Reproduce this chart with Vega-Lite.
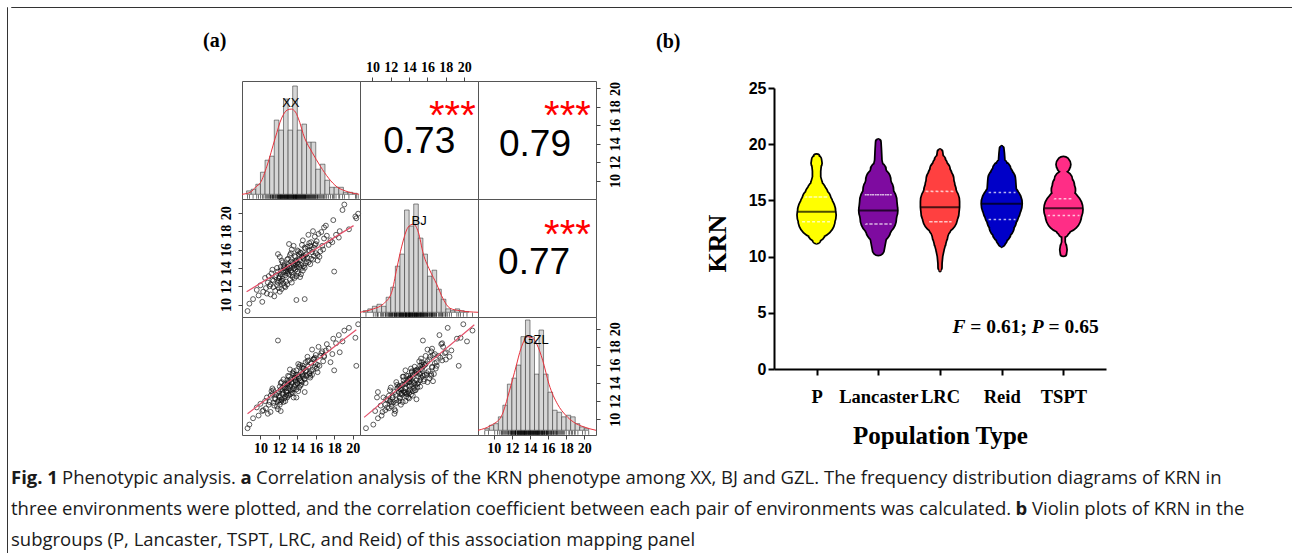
{
"$schema":"https://vega.github.io/schema/vega-lite/v6.json",
"padding":{"left":6,"top":6,"right":0,"bottom":0},
"background":"white",
"config":{"view":{"stroke":"#555","strokeWidth":1},"font":"Liberation Sans","axis":{"grid":false}},
"datasets":{
"ind":[
{"XX":13.2,"BJ":14.0,"GZL":13.6},{"XX":14.6,"BJ":15.1,"GZL":15.0},{"XX":12.1,"BJ":13.0,"GZL":12.4},{"XX":15.8,"BJ":16.2,"GZL":16.6},{"XX":11.4,"BJ":12.6,"GZL":11.8},
{"XX":13.8,"BJ":14.4,"GZL":14.9},{"XX":16.9,"BJ":17.2,"GZL":17.0},{"XX":12.8,"BJ":13.9,"GZL":13.1},{"XX":10.6,"BJ":11.8,"GZL":11.2},{"XX":14.2,"BJ":14.1,"GZL":14.5},
{"XX":13.0,"BJ":15.0,"GZL":14.0},{"XX":15.2,"BJ":14.6,"GZL":15.8},{"XX":12.4,"BJ":12.8,"GZL":13.5},{"XX":18.2,"BJ":17.6,"GZL":18.4},{"XX":11.9,"BJ":13.6,"GZL":12.0},
{"XX":13.5,"BJ":13.2,"GZL":12.9},{"XX":14.9,"BJ":16.1,"GZL":15.3},{"XX":12.6,"BJ":14.3,"GZL":13.8},{"XX":9.8,"BJ":11.0,"GZL":10.4},{"XX":16.2,"BJ":15.4,"GZL":16.0},
{"XX":13.3,"BJ":14.7,"GZL":13.2},{"XX":14.4,"BJ":15.6,"GZL":14.2},{"XX":11.1,"BJ":12.2,"GZL":12.6},{"XX":15.5,"BJ":16.8,"GZL":16.2},{"XX":12.9,"BJ":13.4,"GZL":14.3},
{"XX":17.4,"BJ":16.5,"GZL":17.8},{"XX":13.7,"BJ":15.3,"GZL":14.6},{"XX":10.9,"BJ":13.1,"GZL":11.6},{"XX":14.0,"BJ":13.6,"GZL":13.9},{"XX":12.2,"BJ":14.1,"GZL":13.3},
{"XX":19.1,"BJ":20.9,"GZL":19.8},{"XX":15.0,"BJ":15.5,"GZL":14.8},{"XX":11.6,"BJ":11.5,"GZL":12.2},{"XX":13.9,"BJ":14.8,"GZL":15.4},{"XX":12.5,"BJ":12.3,"GZL":11.9},
{"XX":16.6,"BJ":17.9,"GZL":17.3},{"XX":14.7,"BJ":14.2,"GZL":15.6},{"XX":12.0,"BJ":12.9,"GZL":13.0},{"XX":13.4,"BJ":16.0,"GZL":14.1},{"XX":15.3,"BJ":15.9,"GZL":15.1},
{"XX":8.6,"BJ":9.3,"GZL":9.0},{"XX":14.3,"BJ":13.0,"GZL":13.7},{"XX":12.7,"BJ":13.7,"GZL":12.5},{"XX":17.9,"BJ":19.2,"GZL":18.9},{"XX":13.1,"BJ":13.3,"GZL":14.7},
{"XX":11.3,"BJ":13.8,"GZL":12.8},{"XX":15.7,"BJ":14.9,"GZL":15.5},{"XX":14.1,"BJ":15.8,"GZL":16.1},{"XX":12.3,"BJ":11.7,"GZL":12.1},{"XX":16.0,"BJ":16.6,"GZL":17.1},
{"XX":13.6,"BJ":14.5,"GZL":13.4},{"XX":10.3,"BJ":11.4,"GZL":11.0},{"XX":14.8,"BJ":14.0,"GZL":14.4},{"XX":12.9,"BJ":14.9,"GZL":13.9},{"XX":15.9,"BJ":17.4,"GZL":16.8},
{"XX":11.8,"BJ":12.1,"GZL":11.4},{"XX":13.2,"BJ":12.7,"GZL":13.8},{"XX":16.4,"BJ":15.2,"GZL":15.9},{"XX":12.5,"BJ":13.5,"GZL":12.9},{"XX":14.5,"BJ":16.5,"GZL":15.7},
{"XX":10.8,"BJ":12.4,"GZL":10.6},{"XX":13.8,"BJ":13.8,"GZL":14.2},{"XX":15.1,"BJ":16.3,"GZL":16.9},{"XX":12.1,"BJ":15.2,"GZL":13.6},{"XX":19.6,"BJ":18.2,"GZL":20.1},
{"XX":14.2,"BJ":14.9,"GZL":13.5},{"XX":11.5,"BJ":10.9,"GZL":11.5},{"XX":13.0,"BJ":13.9,"GZL":14.8},{"XX":16.8,"BJ":16.0,"GZL":16.4},{"XX":12.8,"BJ":12.5,"GZL":12.7},
{"XX":14.6,"BJ":17.0,"GZL":15.9},{"XX":9.6,"BJ":11.6,"GZL":11.3},{"XX":13.5,"BJ":14.6,"GZL":15.1},{"XX":15.4,"BJ":14.4,"GZL":14.6},{"XX":12.2,"BJ":13.3,"GZL":11.9},
{"XX":17.1,"BJ":18.6,"GZL":17.6},{"XX":13.9,"BJ":13.1,"GZL":13.3},{"XX":11.0,"BJ":12.0,"GZL":11.9},{"XX":14.9,"BJ":15.4,"GZL":16.3},{"XX":12.6,"BJ":14.0,"GZL":12.3},
{"XX":15.6,"BJ":15.7,"GZL":14.9},{"XX":13.3,"BJ":15.6,"GZL":14.4},{"XX":10.2,"BJ":10.3,"GZL":10.9},{"XX":14.0,"BJ":14.6,"GZL":14.0},{"XX":16.3,"BJ":17.7,"GZL":18.0},
{"XX":12.4,"BJ":14.6,"GZL":13.2},{"XX":13.7,"BJ":12.9,"GZL":13.6},{"XX":18.6,"BJ":18.0,"GZL":17.4},{"XX":11.7,"BJ":13.2,"GZL":12.7},{"XX":14.4,"BJ":14.3,"GZL":15.2},
{"XX":15.2,"BJ":17.6,"GZL":16.5},{"XX":12.0,"BJ":11.8,"GZL":12.6},{"XX":13.1,"BJ":14.2,"GZL":12.7},{"XX":16.1,"BJ":16.9,"GZL":15.6},{"XX":11.2,"BJ":13.4,"GZL":13.1},
{"XX":14.7,"BJ":15.0,"GZL":14.7},{"XX":13.4,"BJ":13.5,"GZL":14.0},{"XX":20.3,"BJ":19.6,"GZL":19.0},{"XX":12.7,"BJ":13.2,"GZL":13.4},{"XX":14.1,"BJ":14.4,"GZL":13.1},
{"XX":10.5,"BJ":12.9,"GZL":12.0},{"XX":15.8,"BJ":15.3,"GZL":16.7},{"XX":13.6,"BJ":16.4,"GZL":15.0},{"XX":12.3,"BJ":12.6,"GZL":14.1},{"XX":17.6,"BJ":17.0,"GZL":16.3},
{"XX":13.8,"BJ":15.2,"GZL":14.3},{"XX":11.9,"BJ":12.4,"GZL":11.1},{"XX":14.3,"BJ":15.7,"GZL":16.0},{"XX":15.0,"BJ":14.7,"GZL":15.4},{"XX":12.9,"BJ":12.2,"GZL":12.4},
{"XX":9.2,"BJ":10.6,"GZL":10.1},{"XX":14.5,"BJ":14.0,"GZL":14.1},{"XX":16.7,"BJ":16.4,"GZL":17.5},{"XX":13.0,"BJ":14.4,"GZL":12.6},{"XX":11.4,"BJ":11.9,"GZL":13.2},
{"XX":15.3,"BJ":16.7,"GZL":15.0},{"XX":13.9,"BJ":14.1,"GZL":14.6},{"XX":12.5,"BJ":14.2,"GZL":14.4},{"XX":18.9,"BJ":20.3,"GZL":18.6},{"XX":14.6,"BJ":13.7,"GZL":14.8},
{"XX":12.1,"BJ":11.4,"GZL":11.6},{"XX":13.2,"BJ":15.4,"GZL":15.5},{"XX":15.5,"BJ":15.0,"GZL":15.3},{"XX":10.7,"BJ":11.2,"GZL":12.4},{"XX":14.8,"BJ":16.2,"GZL":14.5},
{"XX":12.8,"BJ":13.6,"GZL":13.0},{"XX":16.5,"BJ":15.8,"GZL":17.0},{"XX":13.5,"BJ":13.0,"GZL":13.3},{"XX":11.6,"BJ":13.0,"GZL":12.3},{"XX":14.2,"BJ":15.5,"GZL":15.8},
{"XX":17.2,"BJ":17.5,"GZL":18.3},{"XX":12.4,"BJ":13.1,"GZL":12.8},{"XX":13.7,"BJ":14.0,"GZL":14.5},{"XX":15.9,"BJ":16.5,"GZL":15.8},{"XX":11.1,"BJ":11.1,"GZL":10.8},
{"XX":14.0,"BJ":15.9,"GZL":14.9},{"XX":12.6,"BJ":12.0,"GZL":13.5},{"XX":15.1,"BJ":15.1,"GZL":16.4},{"XX":13.3,"BJ":13.7,"GZL":12.8},{"XX":16.9,"BJ":18.4,"GZL":16.9},
{"XX":12.2,"BJ":13.7,"GZL":14.0},{"XX":14.4,"BJ":13.3,"GZL":13.8},{"XX":8.8,"BJ":10.1,"GZL":9.4},{"XX":13.6,"BJ":14.3,"GZL":15.3},{"XX":15.6,"BJ":16.0,"GZL":17.7},
{"XX":12.0,"BJ":12.6,"GZL":12.1},{"XX":14.9,"BJ":14.5,"GZL":14.0},{"XX":13.1,"BJ":16.6,"GZL":14.2},{"XX":17.8,"BJ":16.8,"GZL":17.2},{"XX":11.8,"BJ":14.0,"GZL":12.9},
{"XX":14.1,"BJ":13.4,"GZL":14.7},{"XX":12.9,"BJ":14.1,"GZL":13.7},{"XX":16.0,"BJ":15.6,"GZL":16.1},{"XX":13.4,"BJ":12.4,"GZL":13.0},{"XX":10.0,"BJ":12.1,"GZL":11.7},
{"XX":14.7,"BJ":15.3,"GZL":15.6},{"XX":12.3,"BJ":14.8,"GZL":12.2},{"XX":15.4,"BJ":16.4,"GZL":14.8},{"XX":13.8,"BJ":14.7,"GZL":13.8},{"XX":20.6,"BJ":19.9,"GZL":20.5},
{"XX":12.7,"BJ":11.9,"GZL":12.0},{"XX":14.3,"BJ":14.8,"GZL":14.3},{"XX":11.3,"BJ":12.7,"GZL":13.4},{"XX":13.0,"BJ":13.6,"GZL":13.4},{"XX":15.7,"BJ":18.0,"GZL":16.6},
{"XX":18.5,"BJ":17.3,"GZL":19.3},{"XX":12.2,"BJ":12.5,"GZL":10.9},{"XX":14.5,"BJ":15.2,"GZL":15.0},{"XX":13.6,"BJ":13.9,"GZL":12.4},{"XX":16.2,"BJ":14.8,"GZL":15.2},
{"XX":18.0,"BJ":13.6,"GZL":15.4},{"XX":13.9,"BJ":10.5,"GZL":12.4},{"XX":14.8,"BJ":10.6,"GZL":13.0},{"XX":20.4,"BJ":19.4,"GZL":15.9},{"XX":11.9,"BJ":15.5,"GZL":18.7}
],
"hist":[
{"env":"XX","b":8.5,"b2":9.0,"n":1.7},{"env":"XX","b":9.0,"b2":9.5,"n":2.5},{"env":"XX","b":9.5,"b2":10.0,"n":5},{"env":"XX","b":10.0,"b2":10.5,"n":11},{"env":"XX","b":10.5,"b2":11.0,"n":17},{"env":"XX","b":11.0,"b2":11.5,"n":19},{"env":"XX","b":11.5,"b2":12.0,"n":37},{"env":"XX","b":12.0,"b2":12.5,"n":32},{"env":"XX","b":12.5,"b2":13.0,"n":47.5},{"env":"XX","b":13.0,"b2":13.5,"n":32},{"env":"XX","b":13.5,"b2":14.0,"n":54},{"env":"XX","b":14.0,"b2":14.5,"n":32},{"env":"XX","b":14.5,"b2":15.0,"n":35},{"env":"XX","b":15.0,"b2":15.5,"n":26},{"env":"XX","b":15.5,"b2":16.0,"n":26},{"env":"XX","b":16.0,"b2":16.5,"n":12.5},{"env":"XX","b":16.5,"b2":17.0,"n":15},{"env":"XX","b":17.0,"b2":17.5,"n":7},{"env":"XX","b":17.5,"b2":18.0,"n":3.5},{"env":"XX","b":18.0,"b2":18.5,"n":3.5},{"env":"XX","b":18.5,"b2":19.0,"n":3.5},{"env":"XX","b":19.0,"b2":19.5,"n":1},{"env":"XX","b":19.5,"b2":20.0,"n":1},{"env":"XX","b":20.0,"b2":20.5,"n":0.5},
{"env":"BJ","b":9.0,"b2":9.5,"n":0.8},{"env":"BJ","b":9.5,"b2":10.0,"n":1.7},{"env":"BJ","b":10.0,"b2":10.5,"n":3},{"env":"BJ","b":10.5,"b2":11.0,"n":4},{"env":"BJ","b":11.0,"b2":11.5,"n":3},{"env":"BJ","b":11.5,"b2":12.0,"n":7.5},{"env":"BJ","b":12.0,"b2":12.5,"n":12.5},{"env":"BJ","b":12.5,"b2":13.0,"n":23},{"env":"BJ","b":13.0,"b2":13.5,"n":29},{"env":"BJ","b":13.5,"b2":14.0,"n":51},{"env":"BJ","b":14.0,"b2":14.5,"n":43},{"env":"BJ","b":14.5,"b2":15.0,"n":54},{"env":"BJ","b":15.0,"b2":15.5,"n":37},{"env":"BJ","b":15.5,"b2":16.0,"n":29},{"env":"BJ","b":16.0,"b2":16.5,"n":18},{"env":"BJ","b":16.5,"b2":17.0,"n":21},{"env":"BJ","b":17.0,"b2":17.5,"n":11.5},{"env":"BJ","b":17.5,"b2":18.0,"n":6.5},{"env":"BJ","b":18.0,"b2":18.5,"n":1.7},{"env":"BJ","b":18.5,"b2":19.0,"n":0.8},{"env":"BJ","b":19.0,"b2":19.5,"n":1.7},{"env":"BJ","b":19.5,"b2":20.0,"n":0.8},{"env":"BJ","b":20.0,"b2":20.5,"n":0.4},
{"env":"GZL","b":9.0,"b2":9.5,"n":0.8},{"env":"GZL","b":9.5,"b2":10.0,"n":2.5},{"env":"GZL","b":10.0,"b2":10.5,"n":3.3},{"env":"GZL","b":10.5,"b2":11.0,"n":6.7},{"env":"GZL","b":11.0,"b2":11.5,"n":12.5},{"env":"GZL","b":11.5,"b2":12.0,"n":23},{"env":"GZL","b":12.0,"b2":12.5,"n":26},{"env":"GZL","b":12.5,"b2":13.0,"n":32.5},{"env":"GZL","b":13.0,"b2":13.5,"n":46.7},{"env":"GZL","b":13.5,"b2":14.0,"n":55},{"env":"GZL","b":14.0,"b2":14.5,"n":46.7},{"env":"GZL","b":14.5,"b2":15.0,"n":28},{"env":"GZL","b":15.0,"b2":15.5,"n":50},{"env":"GZL","b":15.5,"b2":16.0,"n":28},{"env":"GZL","b":16.0,"b2":16.5,"n":19},{"env":"GZL","b":16.5,"b2":17.0,"n":10},{"env":"GZL","b":17.0,"b2":17.5,"n":9},{"env":"GZL","b":17.5,"b2":18.0,"n":6.7},{"env":"GZL","b":18.0,"b2":18.5,"n":7.5},{"env":"GZL","b":18.5,"b2":19.0,"n":6.7},{"env":"GZL","b":19.0,"b2":19.5,"n":3.3},{"env":"GZL","b":19.5,"b2":20.0,"n":1.7},{"env":"GZL","b":20.0,"b2":20.5,"n":0.8}
],
"dens":[
{"env":"XX","v":8.0,"d":0},{"env":"XX","v":8.9,"d":1},{"env":"XX","v":9.5,"d":3.7},{"env":"XX","v":10.0,"d":5.8},{"env":"XX","v":10.7,"d":14},{"env":"XX","v":11.6,"d":28},{"env":"XX","v":12.3,"d":38},{"env":"XX","v":12.9,"d":42},{"env":"XX","v":13.35,"d":42.5},{"env":"XX","v":13.8,"d":41},{"env":"XX","v":14.1,"d":38},{"env":"XX","v":14.8,"d":28},{"env":"XX","v":15.6,"d":21},{"env":"XX","v":16.5,"d":14},{"env":"XX","v":17.4,"d":8},{"env":"XX","v":18.3,"d":3.7},{"env":"XX","v":19.2,"d":1.7},{"env":"XX","v":20.7,"d":0},
{"env":"BJ","v":8.65,"d":0},{"env":"BJ","v":10.1,"d":1.7},{"env":"BJ","v":11.2,"d":4.2},{"env":"BJ","v":12.1,"d":10},{"env":"BJ","v":12.65,"d":21.7},{"env":"BJ","v":13.2,"d":33},{"env":"BJ","v":13.9,"d":42.5},{"env":"BJ","v":14.45,"d":44},{"env":"BJ","v":15.0,"d":40},{"env":"BJ","v":15.55,"d":29},{"env":"BJ","v":16.25,"d":21},{"env":"BJ","v":17.0,"d":14},{"env":"BJ","v":17.7,"d":6.7},{"env":"BJ","v":18.45,"d":2},{"env":"BJ","v":19.5,"d":0.8},{"env":"BJ","v":21.5,"d":0},
{"env":"GZL","v":8.25,"d":0},{"env":"GZL","v":9.7,"d":2.5},{"env":"GZL","v":10.8,"d":6.7},{"env":"GZL","v":11.75,"d":20},{"env":"GZL","v":12.45,"d":31.7},{"env":"GZL","v":13.0,"d":40.8},{"env":"GZL","v":13.75,"d":46.7},{"env":"GZL","v":14.3,"d":46},{"env":"GZL","v":14.75,"d":43},{"env":"GZL","v":15.4,"d":35},{"env":"GZL","v":16.1,"d":23},{"env":"GZL","v":17.05,"d":13},{"env":"GZL","v":17.95,"d":7.5},{"env":"GZL","v":18.85,"d":4},{"env":"GZL","v":19.95,"d":1.7},{"env":"GZL","v":21.3,"d":0}
],
"fit":[
{"pair":"XB","u":8.5,"w":11.4},{"pair":"XB","u":20.1,"w":18.6},
{"pair":"XG","u":8.6,"w":10.6},{"pair":"XG","u":20.4,"w":19.9},
{"pair":"BG","u":9.1,"w":10.2},{"pair":"BG","u":21.1,"w":20.45}
],
"lab":[{"env":"XX"},{"env":"BJ"},{"env":"GZL"}],
"cor":[{"cell":"XB","r":"0.73","sig":"***"},{"cell":"XG","r":"0.79","sig":"***"},{"cell":"BG","r":"0.77","sig":"***"}],
"viol":[
{"pop":"P","kind":"v","krn":11.2,"w":0},{"pop":"P","kind":"v","krn":11.5,"w":7},{"pop":"P","kind":"v","krn":12.1,"w":17},{"pop":"P","kind":"v","krn":12.7,"w":26},{"pop":"P","kind":"v","krn":13.3,"w":38},{"pop":"P","kind":"v","krn":13.7,"w":40},{"pop":"P","kind":"v","krn":14.0,"w":39},{"pop":"P","kind":"v","krn":14.5,"w":34},{"pop":"P","kind":"v","krn":14.9,"w":30},{"pop":"P","kind":"v","krn":15.5,"w":23},{"pop":"P","kind":"v","krn":15.9,"w":18},{"pop":"P","kind":"v","krn":16.5,"w":11},{"pop":"P","kind":"v","krn":17.1,"w":7},{"pop":"P","kind":"v","krn":17.6,"w":7},{"pop":"P","kind":"v","krn":18.0,"w":8},{"pop":"P","kind":"v","krn":18.3,"w":10},{"pop":"P","kind":"v","krn":18.6,"w":9},{"pop":"P","kind":"v","krn":18.85,"w":5},{"pop":"P","kind":"v","krn":18.95,"w":0},
{"pop":"P","kind":"med","krn":14.0,"w":39},{"pop":"P","kind":"q","krn":13.1,"w":32},{"pop":"P","kind":"q","krn":15.3,"w":25},
{"pop":"Lancaster","kind":"v","krn":10.6,"w":0},{"pop":"Lancaster","kind":"v","krn":10.62,"w":11},{"pop":"Lancaster","kind":"v","krn":11.5,"w":15},{"pop":"Lancaster","kind":"v","krn":12.4,"w":25},{"pop":"Lancaster","kind":"v","krn":12.9,"w":30},{"pop":"Lancaster","kind":"v","krn":13.4,"w":37},{"pop":"Lancaster","kind":"v","krn":14.1,"w":40},{"pop":"Lancaster","kind":"v","krn":14.9,"w":38},{"pop":"Lancaster","kind":"v","krn":15.5,"w":32},{"pop":"Lancaster","kind":"v","krn":15.9,"w":31},{"pop":"Lancaster","kind":"v","krn":16.8,"w":25},{"pop":"Lancaster","kind":"v","krn":17.7,"w":15},{"pop":"Lancaster","kind":"v","krn":18.2,"w":8},{"pop":"Lancaster","kind":"v","krn":18.6,"w":6},{"pop":"Lancaster","kind":"v","krn":19.5,"w":5},{"pop":"Lancaster","kind":"v","krn":20.2,"w":4},{"pop":"Lancaster","kind":"v","krn":20.4,"w":0},
{"pop":"Lancaster","kind":"med","krn":14.1,"w":40},{"pop":"Lancaster","kind":"q","krn":12.9,"w":28},{"pop":"Lancaster","kind":"q","krn":15.5,"w":30},
{"pop":"LRC","kind":"v","krn":8.75,"w":0},{"pop":"LRC","kind":"v","krn":9.0,"w":2.4},{"pop":"LRC","kind":"v","krn":9.4,"w":2.6},{"pop":"LRC","kind":"v","krn":10.0,"w":4},{"pop":"LRC","kind":"v","krn":10.6,"w":7},{"pop":"LRC","kind":"v","krn":11.2,"w":11},{"pop":"LRC","kind":"v","krn":11.8,"w":15},{"pop":"LRC","kind":"v","krn":12.7,"w":23},{"pop":"LRC","kind":"v","krn":13.3,"w":28},{"pop":"LRC","kind":"v","krn":13.55,"w":36},{"pop":"LRC","kind":"v","krn":14.0,"w":39},{"pop":"LRC","kind":"v","krn":14.4,"w":40},{"pop":"LRC","kind":"v","krn":14.9,"w":40},{"pop":"LRC","kind":"v","krn":15.3,"w":36},{"pop":"LRC","kind":"v","krn":15.8,"w":33},{"pop":"LRC","kind":"v","krn":16.3,"w":30},{"pop":"LRC","kind":"v","krn":16.8,"w":28},{"pop":"LRC","kind":"v","krn":17.2,"w":24},{"pop":"LRC","kind":"v","krn":17.7,"w":20},{"pop":"LRC","kind":"v","krn":18.2,"w":14},{"pop":"LRC","kind":"v","krn":18.6,"w":10},{"pop":"LRC","kind":"v","krn":19.0,"w":5},{"pop":"LRC","kind":"v","krn":19.3,"w":4},{"pop":"LRC","kind":"v","krn":19.5,"w":0},
{"pop":"LRC","kind":"med","krn":14.4,"w":40},{"pop":"LRC","kind":"q","krn":13.1,"w":24},{"pop":"LRC","kind":"q","krn":15.8,"w":32},
{"pop":"Reid","kind":"v","krn":10.9,"w":0},{"pop":"Reid","kind":"v","krn":11.2,"w":6},{"pop":"Reid","kind":"v","krn":11.5,"w":10},{"pop":"Reid","kind":"v","krn":12.1,"w":18},{"pop":"Reid","kind":"v","krn":12.7,"w":25},{"pop":"Reid","kind":"v","krn":13.3,"w":30},{"pop":"Reid","kind":"v","krn":13.85,"w":35},{"pop":"Reid","kind":"v","krn":14.3,"w":39},{"pop":"Reid","kind":"v","krn":14.7,"w":42},{"pop":"Reid","kind":"v","krn":15.0,"w":38},{"pop":"Reid","kind":"v","krn":15.3,"w":32},{"pop":"Reid","kind":"v","krn":15.7,"w":30},{"pop":"Reid","kind":"v","krn":16.2,"w":29},{"pop":"Reid","kind":"v","krn":16.8,"w":28},{"pop":"Reid","kind":"v","krn":17.2,"w":23},{"pop":"Reid","kind":"v","krn":17.7,"w":18},{"pop":"Reid","kind":"v","krn":18.2,"w":10},{"pop":"Reid","kind":"v","krn":18.6,"w":5},{"pop":"Reid","kind":"v","krn":19.2,"w":4},{"pop":"Reid","kind":"v","krn":19.6,"w":3},{"pop":"Reid","kind":"v","krn":19.8,"w":0},
{"pop":"Reid","kind":"med","krn":14.7,"w":42},{"pop":"Reid","kind":"q","krn":13.3,"w":29},{"pop":"Reid","kind":"q","krn":15.7,"w":29},
{"pop":"TSPT","kind":"v","krn":10.15,"w":0},{"pop":"TSPT","kind":"v","krn":10.3,"w":5},{"pop":"TSPT","kind":"v","krn":10.6,"w":6},{"pop":"TSPT","kind":"v","krn":10.9,"w":5},{"pop":"TSPT","kind":"v","krn":11.3,"w":2},{"pop":"TSPT","kind":"v","krn":11.7,"w":2},{"pop":"TSPT","kind":"v","krn":11.9,"w":3},{"pop":"TSPT","kind":"v","krn":12.2,"w":10},{"pop":"TSPT","kind":"v","krn":12.6,"w":16},{"pop":"TSPT","kind":"v","krn":12.96,"w":20},{"pop":"TSPT","kind":"v","krn":13.3,"w":26},{"pop":"TSPT","kind":"v","krn":13.7,"w":37},{"pop":"TSPT","kind":"v","krn":14.2,"w":40},{"pop":"TSPT","kind":"v","krn":14.6,"w":34},{"pop":"TSPT","kind":"v","krn":14.9,"w":28},{"pop":"TSPT","kind":"v","krn":15.2,"w":20},{"pop":"TSPT","kind":"v","krn":15.5,"w":17},{"pop":"TSPT","kind":"v","krn":15.9,"w":24},{"pop":"TSPT","kind":"v","krn":16.3,"w":22},{"pop":"TSPT","kind":"v","krn":16.8,"w":18},{"pop":"TSPT","kind":"v","krn":17.2,"w":10},{"pop":"TSPT","kind":"v","krn":17.55,"w":5},{"pop":"TSPT","kind":"v","krn":17.8,"w":5},{"pop":"TSPT","kind":"v","krn":18.0,"w":12},{"pop":"TSPT","kind":"v","krn":18.2,"w":14},{"pop":"TSPT","kind":"v","krn":18.35,"w":12},{"pop":"TSPT","kind":"v","krn":18.45,"w":0},
{"pop":"TSPT","kind":"med","krn":14.3,"w":38.6},{"pop":"TSPT","kind":"q","krn":13.65,"w":34},{"pop":"TSPT","kind":"q","krn":15.15,"w":20},
{"pop":"TSPT","kind":"ann","seg":"F","txt":"F"},{"pop":"TSPT","kind":"ann","seg":"e1","txt":"= 0.61;"},{"pop":"TSPT","kind":"ann","seg":"P","txt":"P"},{"pop":"TSPT","kind":"ann","seg":"e2","txt":"= 0.65"}
],
"cap":[
{"line":1,"seg":"fig","txt":"Fig. 1"},
{"line":1,"seg":"p1","txt":"Phenotypic analysis."},
{"line":1,"seg":"a","txt":"a"},
{"line":1,"seg":"p2","txt":"Correlation analysis of the KRN phenotype among XX, BJ and GZL. The frequency distribution diagrams of KRN in"},
{"line":2,"seg":"p3","txt":"three environments were plotted, and the correlation coefficient between each pair of environments was calculated."},
{"line":2,"seg":"b","txt":"b"},
{"line":2,"seg":"p4","txt":"Violin plots of KRN in the"},
{"line":3,"seg":"p5","txt":"subgroups (P, Lancaster, TSPT, LRC, and Reid) of this association mapping panel"}
],
"empty":[]
},
"spacing":2,
"hconcat":[
{"width":0.01,"height":547,"view":{"stroke":"#333","strokeWidth":1},"data":{"name":"empty"},"mark":{"type":"point"},"encoding":{}},
{"spacing":22,"vconcat":[
{"width":1283,"height":0.01,"view":{"stroke":"#333","strokeWidth":1},"data":{"name":"empty"},"mark":{"type":"point"},"encoding":{}},
{"spacing":7,"vconcat":[
{"columns":3,"spacing":33,"concat":[
{"width":159,"height":10,"view":{"stroke":null},"data":{"name":"empty"},"mark":{"type":"point"},"encoding":{}},
{"title":{"text":"(a)","anchor":"start","frame":"group","dx":-39,"offset":9,"font":"Liberation Serif","fontSize":20,"fontWeight":"bold","color":"black"},
 "columns":3,"spacing":0,"bounds":"flush",
 "concat":[
 {"width":118,"height":118,"layer":[
  {"data":{"name":"hist"},"transform":[{"filter":"datum.env==='XX'"}],"mark":{"type":"bar","fill":"#d6d6d6","stroke":"#3a3a3a","strokeWidth":0.6},
   "encoding":{"x":{"field":"b","type":"quantitative","scale":{"domain":[8.0,20.8],"nice":false,"zero":false},"axis":null},"x2":{"field":"b2"},"y":{"field":"n","type":"quantitative","scale":{"domain":[-2.35,56.5],"nice":false,"zero":false},"axis":null},"y2":{"datum":0}}},
  {"data":{"name":"dens"},"transform":[{"filter":"datum.env==='XX'"}],"mark":{"type":"line","color":"#e8323c","strokeWidth":1,"interpolate":"monotone"},
   "encoding":{"x":{"field":"v","type":"quantitative","scale":{"domain":[8.0,20.8],"nice":false,"zero":false},"axis":null},"y":{"field":"d","type":"quantitative","scale":{"domain":[-2.35,56.5],"nice":false,"zero":false},"axis":null},"order":{"field":"v","type":"quantitative"}}},
  {"data":{"name":"ind"},"mark":{"type":"tick","orient":"vertical","color":"black","size":4,"thickness":0.8},
   "encoding":{"x":{"field":"XX","type":"quantitative","scale":{"domain":[8.0,20.8],"nice":false,"zero":false},"axis":null},"y":{"datum":-1.2,"type":"quantitative","scale":{"domain":[-2.35,56.5],"nice":false,"zero":false},"axis":null}}},
  {"data":{"name":"lab"},"transform":[{"filter":"datum.env==='XX'"}],"mark":{"type":"text","font":"Liberation Sans","fontSize":13,"color":"black"},
   "encoding":{"text":{"field":"env"},"x":{"datum":13.3,"type":"quantitative","scale":{"domain":[8.0,20.8],"nice":false,"zero":false},"axis":null},"y":{"datum":45.5,"type":"quantitative","scale":{"domain":[-2.35,56.5],"nice":false,"zero":false},"axis":null}}}
 ]},
 {"width":118,"height":118,"data":{"name":"cor"},"transform":[{"filter":"datum.cell==='XB'"}],"resolve":{"axis":{"x":"independent"}},"layer":[
  {"mark":{"type":"text","align":"center","baseline":"alphabetic","font":"Liberation Sans","fontSize":37,"color":"black"},
   "encoding":{"text":{"field":"r"},"x":{"datum":15.1,"type":"quantitative","scale":{"domain":[8.65,21.5],"nice":false,"zero":false},"axis":{"orient":"top","values":[10,12,14,16,18,20],"title":null,"domain":false,"grid":false,"tickColor":"#444","tickSize":4,"labelFont":"Liberation Serif","labelFontWeight":"bold","labelFontSize":14,"labelColor":"black","labelPadding":3,"labelOverlap":false,"labelFlush":false}},"y":{"datum":13.0,"type":"quantitative","scale":{"domain":[8.0,20.8],"nice":false,"zero":false},"axis":null}}},
  {"mark":{"type":"text","align":"left","baseline":"alphabetic","font":"Liberation Sans","fontSize":40,"color":"#ff0000","clip":true},
   "encoding":{"text":{"field":"sig"},"x":{"datum":16.17,"type":"quantitative","scale":{"domain":[8.65,21.5],"nice":false,"zero":false},"axis":null},"y":{"datum":15.55,"type":"quantitative","scale":{"domain":[8.0,20.8],"nice":false,"zero":false},"axis":null}}}
 ]},
 {"width":118,"height":118,"data":{"name":"cor"},"transform":[{"filter":"datum.cell==='XG'"}],"resolve":{"axis":{"y":"independent"}},"layer":[
  {"mark":{"type":"text","align":"center","baseline":"alphabetic","font":"Liberation Sans","fontSize":37,"color":"black"},
   "encoding":{"text":{"field":"r"},"x":{"datum":14.55,"type":"quantitative","scale":{"domain":[8.25,21.3],"nice":false,"zero":false},"axis":null},"y":{"datum":12.66,"type":"quantitative","scale":{"domain":[8.0,20.8],"nice":false,"zero":false},"axis":{"orient":"right","values":[10,12,14,16,18,20],"title":null,"domain":false,"grid":false,"tickColor":"#444","tickSize":4,"labelFont":"Liberation Serif","labelFontWeight":"bold","labelFontSize":14,"labelColor":"black","labelPadding":8,"labelOverlap":false,"labelFlush":false,"labelAngle":270,"labelAlign":"center","labelBaseline":"top"}}}},
  {"mark":{"type":"text","align":"left","baseline":"alphabetic","font":"Liberation Sans","fontSize":40,"color":"#ff0000","clip":true},
   "encoding":{"text":{"field":"sig"},"x":{"datum":15.56,"type":"quantitative","scale":{"domain":[8.25,21.3],"nice":false,"zero":false},"axis":null},"y":{"datum":15.55,"type":"quantitative","scale":{"domain":[8.0,20.8],"nice":false,"zero":false},"axis":null}}}
 ]},
 {"width":118,"height":118,"resolve":{"axis":{"y":"independent"}},"layer":[
  {"data":{"name":"ind"},"mark":{"type":"point","shape":"circle","filled":false,"color":"#111","strokeWidth":0.8,"size":24,"opacity":0.85},
   "encoding":{"x":{"field":"XX","type":"quantitative","scale":{"domain":[8.0,20.8],"nice":false,"zero":false},"axis":null},"y":{"field":"BJ","type":"quantitative","scale":{"domain":[8.65,21.5],"nice":false,"zero":false},"axis":{"orient":"left","values":[10,12,14,16,18,20],"title":null,"domain":false,"grid":false,"tickColor":"#444","tickSize":4,"labelFont":"Liberation Serif","labelFontWeight":"bold","labelFontSize":14,"labelColor":"black","labelPadding":5,"labelOverlap":false,"labelFlush":false,"labelAngle":270,"labelAlign":"center","labelBaseline":"bottom"}}}},
  {"data":{"name":"fit"},"transform":[{"filter":"datum.pair==='XB'"}],"mark":{"type":"line","color":"#e4506a","strokeWidth":1.2},
   "encoding":{"x":{"field":"u","type":"quantitative","scale":{"domain":[8.0,20.8],"nice":false,"zero":false},"axis":null},"y":{"field":"w","type":"quantitative","scale":{"domain":[8.65,21.5],"nice":false,"zero":false},"axis":null}}}
 ]},
 {"width":118,"height":118,"layer":[
  {"data":{"name":"hist"},"transform":[{"filter":"datum.env==='BJ'"}],"mark":{"type":"bar","fill":"#d6d6d6","stroke":"#3a3a3a","strokeWidth":0.6},
   "encoding":{"x":{"field":"b","type":"quantitative","scale":{"domain":[8.65,21.5],"nice":false,"zero":false},"axis":null},"x2":{"field":"b2"},"y":{"field":"n","type":"quantitative","scale":{"domain":[-2.35,56.5],"nice":false,"zero":false},"axis":null},"y2":{"datum":0}}},
  {"data":{"name":"dens"},"transform":[{"filter":"datum.env==='BJ'"}],"mark":{"type":"line","color":"#e8323c","strokeWidth":1,"interpolate":"monotone"},
   "encoding":{"x":{"field":"v","type":"quantitative","scale":{"domain":[8.65,21.5],"nice":false,"zero":false},"axis":null},"y":{"field":"d","type":"quantitative","scale":{"domain":[-2.35,56.5],"nice":false,"zero":false},"axis":null},"order":{"field":"v","type":"quantitative"}}},
  {"data":{"name":"ind"},"mark":{"type":"tick","orient":"vertical","color":"black","size":4,"thickness":0.8},
   "encoding":{"x":{"field":"BJ","type":"quantitative","scale":{"domain":[8.65,21.5],"nice":false,"zero":false},"axis":null},"y":{"datum":-1.2,"type":"quantitative","scale":{"domain":[-2.35,56.5],"nice":false,"zero":false},"axis":null}}},
  {"data":{"name":"lab"},"transform":[{"filter":"datum.env==='BJ'"}],"mark":{"type":"text","font":"Liberation Sans","fontSize":13,"color":"black"},
   "encoding":{"text":{"field":"env"},"x":{"datum":15.08,"type":"quantitative","scale":{"domain":[8.65,21.5],"nice":false,"zero":false},"axis":null},"y":{"datum":45.5,"type":"quantitative","scale":{"domain":[-2.35,56.5],"nice":false,"zero":false},"axis":null}}}
 ]},
 {"width":118,"height":118,"data":{"name":"cor"},"transform":[{"filter":"datum.cell==='BG'"}],"layer":[
  {"mark":{"type":"text","align":"center","baseline":"alphabetic","font":"Liberation Sans","fontSize":37,"color":"black"},
   "encoding":{"text":{"field":"r"},"x":{"datum":14.45,"type":"quantitative","scale":{"domain":[8.25,21.3],"nice":false,"zero":false},"axis":null},"y":{"datum":13.3,"type":"quantitative","scale":{"domain":[8.65,21.5],"nice":false,"zero":false},"axis":null}}},
  {"mark":{"type":"text","align":"left","baseline":"alphabetic","font":"Liberation Sans","fontSize":40,"color":"#ff0000","clip":true},
   "encoding":{"text":{"field":"sig"},"x":{"datum":15.56,"type":"quantitative","scale":{"domain":[8.25,21.3],"nice":false,"zero":false},"axis":null},"y":{"datum":16.18,"type":"quantitative","scale":{"domain":[8.65,21.5],"nice":false,"zero":false},"axis":null}}}
 ]},
 {"width":118,"height":118,"resolve":{"axis":{"x":"independent"}},"layer":[
  {"data":{"name":"ind"},"mark":{"type":"point","shape":"circle","filled":false,"color":"#111","strokeWidth":0.8,"size":24,"opacity":0.85},
   "encoding":{"x":{"field":"XX","type":"quantitative","scale":{"domain":[8.0,20.8],"nice":false,"zero":false},"axis":{"orient":"bottom","values":[10,12,14,16,18,20],"title":null,"domain":false,"grid":false,"tickColor":"#444","tickSize":4,"labelFont":"Liberation Serif","labelFontWeight":"bold","labelFontSize":14,"labelColor":"black","labelPadding":2,"labelOverlap":false,"labelFlush":false}},"y":{"field":"GZL","type":"quantitative","scale":{"domain":[8.25,21.3],"nice":false,"zero":false},"axis":null}}},
  {"data":{"name":"fit"},"transform":[{"filter":"datum.pair==='XG'"}],"mark":{"type":"line","color":"#e4506a","strokeWidth":1.2},
   "encoding":{"x":{"field":"u","type":"quantitative","scale":{"domain":[8.0,20.8],"nice":false,"zero":false},"axis":null},"y":{"field":"w","type":"quantitative","scale":{"domain":[8.25,21.3],"nice":false,"zero":false},"axis":null}}}
 ]},
 {"width":118,"height":118,"layer":[
  {"data":{"name":"ind"},"mark":{"type":"point","shape":"circle","filled":false,"color":"#111","strokeWidth":0.8,"size":24,"opacity":0.85},
   "encoding":{"x":{"field":"BJ","type":"quantitative","scale":{"domain":[8.65,21.5],"nice":false,"zero":false},"axis":null},"y":{"field":"GZL","type":"quantitative","scale":{"domain":[8.25,21.3],"nice":false,"zero":false},"axis":null}}},
  {"data":{"name":"fit"},"transform":[{"filter":"datum.pair==='BG'"}],"mark":{"type":"line","color":"#e4506a","strokeWidth":1.2},
   "encoding":{"x":{"field":"u","type":"quantitative","scale":{"domain":[8.65,21.5],"nice":false,"zero":false},"axis":null},"y":{"field":"w","type":"quantitative","scale":{"domain":[8.25,21.3],"nice":false,"zero":false},"axis":null}}}
 ]},
 {"width":118,"height":118,"resolve":{"scale":{"y":"independent"},"axis":{"x":"independent"}},"layer":[
  {"data":{"name":"hist"},"transform":[{"filter":"datum.env==='GZL'"}],"mark":{"type":"bar","fill":"#d6d6d6","stroke":"#3a3a3a","strokeWidth":0.6},
   "encoding":{"x":{"field":"b","type":"quantitative","scale":{"domain":[8.25,21.3],"nice":false,"zero":false},"axis":{"orient":"bottom","values":[10,12,14,16,18,20],"title":null,"domain":false,"grid":false,"tickColor":"#444","tickSize":4,"labelFont":"Liberation Serif","labelFontWeight":"bold","labelFontSize":14,"labelColor":"black","labelPadding":2,"labelOverlap":false,"labelFlush":false}},"x2":{"field":"b2"},"y":{"field":"n","type":"quantitative","scale":{"domain":[-2.35,56.5],"nice":false,"zero":false},"axis":null},"y2":{"datum":0}}},
  {"data":{"name":"dens"},"transform":[{"filter":"datum.env==='GZL'"}],"mark":{"type":"line","color":"#e8323c","strokeWidth":1,"interpolate":"monotone"},
   "encoding":{"x":{"field":"v","type":"quantitative","scale":{"domain":[8.25,21.3],"nice":false,"zero":false},"axis":null},"y":{"field":"d","type":"quantitative","scale":{"domain":[-2.35,56.5],"nice":false,"zero":false},"axis":null},"order":{"field":"v","type":"quantitative"}}},
  {"data":{"name":"ind"},"mark":{"type":"tick","orient":"vertical","color":"black","size":4,"thickness":0.8},
   "encoding":{"x":{"field":"GZL","type":"quantitative","scale":{"domain":[8.25,21.3],"nice":false,"zero":false},"axis":null},"y":{"datum":-1.2,"type":"quantitative","scale":{"domain":[-2.35,56.5],"nice":false,"zero":false},"axis":null}}},
  {"data":{"name":"lab"},"transform":[{"filter":"datum.env==='GZL'"}],"mark":{"type":"text","font":"Liberation Sans","fontSize":13,"color":"black"},
   "encoding":{"text":{"field":"env"},"x":{"datum":14.67,"type":"quantitative","scale":{"domain":[8.25,21.3],"nice":false,"zero":false},"axis":null},"y":{"datum":45.2,"type":"quantitative","scale":{"domain":[-2.35,56.5],"nice":false,"zero":false},"axis":null}}},
  {"data":{"name":"lab"},"transform":[{"filter":"datum.env==='GZL'"}],"mark":{"type":"point","opacity":0},
   "encoding":{"x":{"datum":14,"type":"quantitative","scale":{"domain":[8.25,21.3],"nice":false,"zero":false},"axis":null},"y":{"datum":15,"type":"quantitative","scale":{"domain":[8.25,21.3],"nice":false,"zero":false},"axis":{"orient":"right","values":[10,12,14,16,18,20],"title":null,"domain":false,"grid":false,"tickColor":"#444","tickSize":4,"labelFont":"Liberation Serif","labelFontWeight":"bold","labelFontSize":14,"labelColor":"black","labelPadding":8,"labelOverlap":false,"labelFlush":false,"labelAngle":270,"labelAlign":"center","labelBaseline":"top"}}}}
 ]}
 ]
},
{"spacing":-2,
 "title":{"text":"(b)","anchor":"start","frame":"group","dx":-118,"offset":28,"font":"Liberation Serif","fontSize":20,"fontWeight":"bold","color":"black"},
 "vconcat":[
 {"width":332,"height":0.01,"view":{"stroke":null},"data":{"name":"empty"},"mark":{"type":"point"},"encoding":{}},
 {"data":{"name":"viol"},"width":332,"height":281,"view":{"stroke":null},
 "resolve":{"scale":{"size":"independent"}},
 "layer":[
  {"transform":[{"filter":"datum.kind==='v'"}],"mark":{"type":"trail","color":"black"},
   "encoding":{"x":{"field":"pop","type":"nominal","sort":["P","Lancaster","LRC","Reid","TSPT"],"scale":{"type":"point","padding":0.69,"domain":["P","Lancaster","LRC","Reid","TSPT"]},"axis":{"title":"Population Type","labelAngle":0,"labelOverlap":false,"grid":false,"domainColor":"black","domainWidth":2,"tickColor":"black","tickWidth":2,"tickSize":6,"labelFont":"Liberation Serif","labelFontWeight":"bold","labelFontSize":18.5,"labelColor":"black","labelPadding":12,"titleFont":"Liberation Serif","titleFontWeight":"bold","titleFontSize":25,"titleColor":"black","titlePadding":18}},
    "y":{"field":"krn","type":"quantitative","scale":{"domain":[0,25],"nice":false},"axis":{"values":[0,5,10,15,20,25],"title":"KRN","titleY":155,"grid":false,"domainColor":"black","domainWidth":2,"tickColor":"black","tickWidth":2,"tickSize":6,"labelFont":"Liberation Sans","labelFontWeight":"bold","labelFontSize":16,"labelColor":"black","labelPadding":2,"titleFont":"Liberation Serif","titleFontWeight":"bold","titleFontSize":26,"titleColor":"black","titlePadding":18}},
    "size":{"field":"w","type":"quantitative","scale":{"domain":[0,62],"range":[3.5,61.5]},"legend":null},
    "detail":{"field":"pop"},"order":{"field":"krn","type":"quantitative"}}},
  {"transform":[{"filter":"datum.kind==='v'"}],"mark":{"type":"trail"},
   "encoding":{"x":{"field":"pop","type":"nominal","sort":["P","Lancaster","LRC","Reid","TSPT"],"scale":{"type":"point","padding":0.69,"domain":["P","Lancaster","LRC","Reid","TSPT"]}},
    "y":{"field":"krn","type":"quantitative","scale":{"domain":[0,25],"nice":false}},
    "size":{"field":"w","type":"quantitative","scale":{"domain":[0,62],"range":[0,58]},"legend":null},
    "color":{"field":"pop","type":"nominal","scale":{"domain":["P","Lancaster","LRC","Reid","TSPT"],"range":["#FFFF00","#7E0BA0","#FF4040","#0000C8","#FF2D86"]},"legend":null},
    "order":{"field":"krn","type":"quantitative"}}},
  {"transform":[{"filter":"datum.kind==='med'"}],"mark":{"type":"tick","color":"black","thickness":2,"orient":"horizontal"},
   "encoding":{"x":{"field":"pop","type":"nominal","sort":["P","Lancaster","LRC","Reid","TSPT"],"scale":{"type":"point","padding":0.69,"domain":["P","Lancaster","LRC","Reid","TSPT"]}},
    "y":{"field":"krn","type":"quantitative","scale":{"domain":[0,25],"nice":false}},
    "size":{"field":"w","type":"quantitative","scale":{"domain":[0,62],"range":[2,60]},"legend":null}}},
  {"transform":[{"filter":"datum.kind==='q'"}],"mark":{"type":"tick","color":"white","filled":false,"thickness":0.1,"strokeWidth":1.5,"strokeDash":[2,3],"orient":"horizontal"},
   "encoding":{"x":{"field":"pop","type":"nominal","sort":["P","Lancaster","LRC","Reid","TSPT"],"scale":{"type":"point","padding":0.69,"domain":["P","Lancaster","LRC","Reid","TSPT"]}},
    "y":{"field":"krn","type":"quantitative","scale":{"domain":[0,25],"nice":false}},
    "size":{"field":"w","type":"quantitative","scale":{"domain":[0,62],"range":[0,56]},"legend":null}}},
  {"transform":[{"filter":"datum.kind==='ann' && datum.seg==='F'"}],"mark":{"type":"text","align":"left","baseline":"middle","font":"Liberation Serif","fontSize":19.5,"fontWeight":"bold","fontStyle":"italic","color":"black","dx":-111},
   "encoding":{"text":{"field":"txt"},"y":{"datum":3.7,"type":"quantitative","scale":{"domain":[0,25],"nice":false}},"x":{"datum":"TSPT","type":"nominal","scale":{"type":"point","padding":0.69,"domain":["P","Lancaster","LRC","Reid","TSPT"]}}}},
  {"transform":[{"filter":"datum.kind==='ann' && datum.seg==='e1'"}],"mark":{"type":"text","align":"left","baseline":"middle","font":"Liberation Serif","fontSize":19.5,"fontWeight":"bold","color":"black","dx":-93.1},
   "encoding":{"text":{"field":"txt"},"y":{"datum":3.7,"type":"quantitative","scale":{"domain":[0,25],"nice":false}},"x":{"datum":"TSPT","type":"nominal","scale":{"type":"point","padding":0.69,"domain":["P","Lancaster","LRC","Reid","TSPT"]}}}},
  {"transform":[{"filter":"datum.kind==='ann' && datum.seg==='P'"}],"mark":{"type":"text","align":"left","baseline":"middle","font":"Liberation Serif","fontSize":19.5,"fontWeight":"bold","fontStyle":"italic","color":"black","dx":-31.6},
   "encoding":{"text":{"field":"txt"},"y":{"datum":3.7,"type":"quantitative","scale":{"domain":[0,25],"nice":false}},"x":{"datum":"TSPT","type":"nominal","scale":{"type":"point","padding":0.69,"domain":["P","Lancaster","LRC","Reid","TSPT"]}}}},
  {"transform":[{"filter":"datum.kind==='ann' && datum.seg==='e2'"}],"mark":{"type":"text","align":"left","baseline":"middle","font":"Liberation Serif","fontSize":19.5,"fontWeight":"bold","color":"black","dx":-14.8},
   "encoding":{"text":{"field":"txt"},"y":{"datum":3.7,"type":"quantitative","scale":{"domain":[0,25],"nice":false}},"x":{"datum":"TSPT","type":"nominal","scale":{"type":"point","padding":0.69,"domain":["P","Lancaster","LRC","Reid","TSPT"]}}}}
 ]}
 ]}
]},
{"width":1270,"height":92,"view":{"stroke":null},"data":{"name":"cap"},
 "layer":[
  {"transform":[{"filter":"datum.seg==='fig'"}],"mark":{"type":"text","align":"left","baseline":"middle","font":"Open Sans","fontSize":18.5,"fontWeight":"bold","color":"#1a1a1a"},
   "encoding":{"text":{"field":"txt"},"x":{"datum":0,"type":"quantitative","scale":{"domain":[0,1]},"axis":null},"y":{"field":"line","type":"ordinal","scale":{"type":"point","padding":0.5},"axis":null}}},
  {"transform":[{"filter":"datum.seg==='p1'"}],"mark":{"type":"text","align":"left","baseline":"middle","font":"Open Sans","fontSize":18.5,"color":"#1a1a1a","dx":51},
   "encoding":{"text":{"field":"txt"},"x":{"datum":0,"type":"quantitative","scale":{"domain":[0,1]},"axis":null},"y":{"field":"line","type":"ordinal","scale":{"type":"point","padding":0.5},"axis":null}}},
  {"transform":[{"filter":"datum.seg==='a'"}],"mark":{"type":"text","align":"left","baseline":"middle","font":"Open Sans","fontSize":18.5,"fontWeight":"bold","color":"#1a1a1a","dx":229.5},
   "encoding":{"text":{"field":"txt"},"x":{"datum":0,"type":"quantitative","scale":{"domain":[0,1]},"axis":null},"y":{"field":"line","type":"ordinal","scale":{"type":"point","padding":0.5},"axis":null}}},
  {"transform":[{"filter":"datum.seg==='p2'"}],"mark":{"type":"text","align":"left","baseline":"middle","font":"Open Sans","fontSize":18.5,"color":"#1a1a1a","dx":245},
   "encoding":{"text":{"field":"txt"},"x":{"datum":0,"type":"quantitative","scale":{"domain":[0,1]},"axis":null},"y":{"field":"line","type":"ordinal","scale":{"type":"point","padding":0.5},"axis":null}}},
  {"transform":[{"filter":"datum.seg==='p3'"}],"mark":{"type":"text","align":"left","baseline":"middle","font":"Open Sans","fontSize":18.5,"color":"#1a1a1a"},
   "encoding":{"text":{"field":"txt"},"x":{"datum":0,"type":"quantitative","scale":{"domain":[0,1]},"axis":null},"y":{"field":"line","type":"ordinal","scale":{"type":"point","padding":0.5},"axis":null}}},
  {"transform":[{"filter":"datum.seg==='b'"}],"mark":{"type":"text","align":"left","baseline":"middle","font":"Open Sans","fontSize":18.5,"fontWeight":"bold","color":"#1a1a1a","dx":1004.5},
   "encoding":{"text":{"field":"txt"},"x":{"datum":0,"type":"quantitative","scale":{"domain":[0,1]},"axis":null},"y":{"field":"line","type":"ordinal","scale":{"type":"point","padding":0.5},"axis":null}}},
  {"transform":[{"filter":"datum.seg==='p4'"}],"mark":{"type":"text","align":"left","baseline":"middle","font":"Open Sans","fontSize":18.5,"color":"#1a1a1a","dx":1021},
   "encoding":{"text":{"field":"txt"},"x":{"datum":0,"type":"quantitative","scale":{"domain":[0,1]},"axis":null},"y":{"field":"line","type":"ordinal","scale":{"type":"point","padding":0.5},"axis":null}}},
  {"transform":[{"filter":"datum.seg==='p5'"}],"mark":{"type":"text","align":"left","baseline":"middle","font":"Open Sans","fontSize":18.5,"color":"#1a1a1a"},
   "encoding":{"text":{"field":"txt"},"x":{"datum":0,"type":"quantitative","scale":{"domain":[0,1]},"axis":null},"y":{"field":"line","type":"ordinal","scale":{"type":"point","padding":0.5},"axis":null}}}
 ]}
]}
]}
]
}
